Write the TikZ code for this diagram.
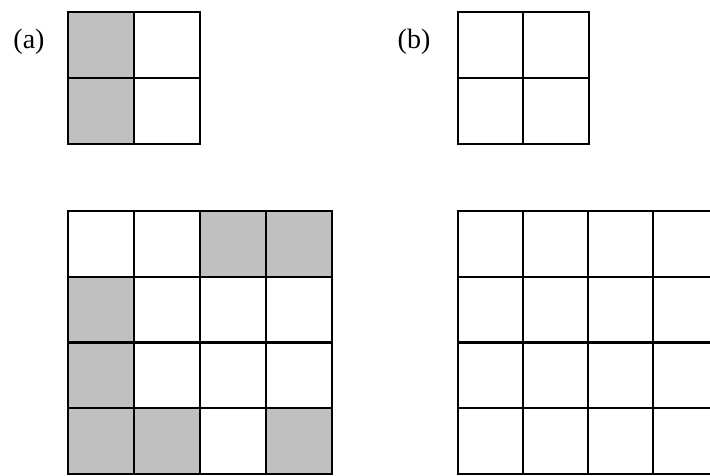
\documentclass[tikz,border=0pt]{standalone}
\usepackage{fontspec}
\setmainfont{Liberation Serif}
\begin{document}
\begin{tikzpicture}[x=1pt,y=-1pt,
  gridline/.style={line width=2.2pt,black},
  shade/.style={fill=gray!50!white!95!black},
  lbl/.style={font=\fontsize{28}{32}\selectfont,anchor=base,inner sep=0pt}]
\useasboundingbox (0,0) rectangle (710,475);
\fill[white] (0,0) rectangle (710,475);
% (a) small
\fill[fill={rgb,255:red,192;green,192;blue,192}] (68,12) rectangle (134,144);
\draw[gridline] (68,12) rectangle (200,144);
\draw[gridline] (134,12) -- (134,144) (68,78) -- (200,78);
\node[lbl] (la) at (29,48) {(a)};
% (b) small
\draw[gridline] (458,12) rectangle (589,144);
\draw[gridline] (523,12) -- (523,144) (458,78) -- (589,78);
\node[lbl] (lb) at (414,48) {(b)};
% (a) large
\begin{scope}
\def\c{66}
\foreach \i/\j in {2/0,3/0,0/1,0/2,0/3,1/3,3/3}{
  \fill[fill={rgb,255:red,192;green,192;blue,192}] (68+\i*\c,211+\j*65.75) rectangle (68+\i*\c+\c,211+\j*65.75+65.75);
}
\draw[gridline] (68,211) rectangle (332,474);
\foreach \x in {134,200,266} \draw[gridline] (\x,211) -- (\x,474);
\foreach \y in {276.75,342.5,408.25} \draw[gridline] (68,\y) -- (332,\y);
\end{scope}
% (b) large
\draw[gridline] (718,211) -- (458,211) -- (458,474) -- (718,474);
\foreach \x in {523,588,653} \draw[gridline] (\x,211) -- (\x,474);
\foreach \y in {276.75,342.5,408.25} \draw[gridline] (458,\y) -- (718,\y);
\end{tikzpicture}
\end{document}
